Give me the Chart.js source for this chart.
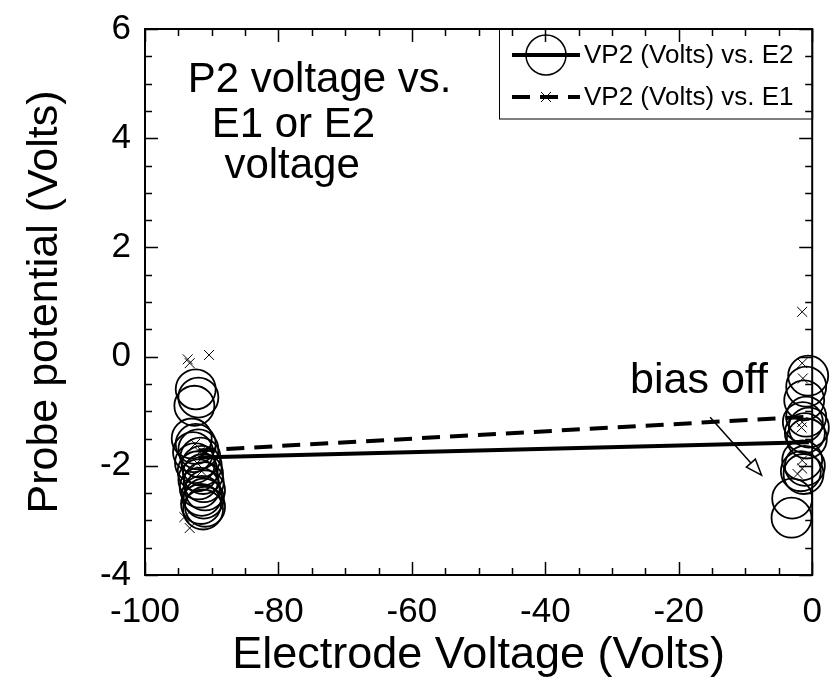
<!DOCTYPE html>
<html>
<head>
<meta charset="utf-8">
<script src="https://cdn.jsdelivr.net/npm/chart.js@4/dist/chart.umd.min.js"></script>
<style>
  html, body { margin: 0; padding: 0; background: #fff; }
</style>
</head>
<body>
<canvas id="chart" width="834" height="696"></canvas>
<script>
// VP2 against E2 voltage (open circles)
const e2X = [-92.4, -92.0, -92.6, -93.0, -92.4, -92.0, -92.8, -91.7, -92.5, -91.5, -92.1, -91.3, -92.0, -91.2, -91.8, -91.0, -91.5, -91.2, -91.6, -91.0, -91.3,
             -0.6, -0.9, -1.2, -0.9, -1.4, -0.5, -1.1, -0.8, -1.5, -1.1, -1.7, -1.3, -3.0, -3.1];
const e2Y = [-0.6, -0.75, -0.9, -1.5, -1.6, -1.7, -1.75, -1.85, -1.95, -2.0, -2.1, -2.15, -2.25, -2.3, -2.4, -2.45, -2.55, -2.6, -2.7, -2.75, -2.8,
             -0.35, -0.55, -0.8, -1.1, -1.2, -1.3, -1.4, -1.5, -1.9, -2.0, -2.1, -2.15, -2.6, -2.95];

// VP2 against E1 voltage (crosses)
const e1X = [-93.6, -93.3, -90.4, -92.5, -91.8, -92.2, -91.5, -94.1, -93.3,
             -1.5, -1.5, -1.4, -1.5, -1.6, -1.5, -1.5, -2.2];
const e1Y = [-0.05, -0.12, 0.03, -1.6, -1.75, -1.95, -2.1, -2.94, -3.14,
             0.82, -0.12, -0.4, -1.2, -1.3, -1.9, -2.05, -2.15];

// straight-line fits through each set
const fitX = [-92, -0.5];
const fitE2 = [-1.85, -1.57];
const fitE1 = [-1.72, -1.1];

const seriesNames = ['VP2 (Volts) vs. E2', 'VP2 (Volts) vs. E1'];

const FONT = '"Liberation Sans", Arial, Helvetica, sans-serif';

const pts = (xs, ys) => xs.map((x, i) => ({ x: x, y: ys[i] }));

// box frame with inward ticks on all four sides
const frame = {
  id: 'frame',
  afterDraw(chart) {
    const ctx = chart.ctx;
    const a = chart.chartArea;
    const xs = chart.scales.x, ys = chart.scales.y;
    ctx.save();
    ctx.strokeStyle = '#000';
    ctx.lineWidth = 2;
    ctx.strokeRect(a.left, a.top, a.right - a.left, a.bottom - a.top);
    ctx.lineWidth = 1.5;
    ctx.beginPath();
    for (let v = -100; v <= 0; v += 5) {
      const px = Math.round(xs.getPixelForValue(v)) + 0.5;
      const len = v % 20 === 0 ? 13 : 7;
      ctx.moveTo(px, a.bottom); ctx.lineTo(px, a.bottom - len);
      ctx.moveTo(px, a.top); ctx.lineTo(px, a.top + len);
    }
    for (let v = -4; v <= 6; v += 0.5) {
      const py = Math.round(ys.getPixelForValue(v)) + 0.5;
      const len = v % 2 === 0 ? 13 : 7;
      ctx.moveTo(a.left, py); ctx.lineTo(a.left + len, py);
      ctx.moveTo(a.right, py); ctx.lineTo(a.right - len, py);
    }
    ctx.stroke();

    // text notes
    ctx.fillStyle = '#000';
    ctx.textBaseline = 'alphabetic';
    ctx.textAlign = 'left';
    ctx.font = '42px ' + FONT;
    ctx.fillText('P2 voltage vs.', xs.getPixelForValue(-93.6), ys.getPixelForValue(4.85));
    ctx.fillText('E1 or E2', xs.getPixelForValue(-90.0), ys.getPixelForValue(4.02));
    ctx.fillText('voltage', xs.getPixelForValue(-88.1), ys.getPixelForValue(3.27));
    ctx.font = '43px ' + FONT;
    ctx.fillText('bias off', xs.getPixelForValue(-27.3), ys.getPixelForValue(-0.67));

    // arrow pointing at the bias-off points
    const x0 = xs.getPixelForValue(-15.3), y0 = ys.getPixelForValue(-1.11);
    const x1 = xs.getPixelForValue(-7.6), y1 = ys.getPixelForValue(-2.17);
    const ang = Math.atan2(y1 - y0, x1 - x0);
    const hl = 16, hw = 6;
    const bx = x1 - hl * Math.cos(ang), by = y1 - hl * Math.sin(ang);
    ctx.lineWidth = 1.5;
    ctx.beginPath();
    ctx.moveTo(x0, y0); ctx.lineTo(bx, by);
    ctx.stroke();
    ctx.beginPath();
    ctx.moveTo(x1, y1);
    ctx.lineTo(bx + hw * Math.sin(ang), by - hw * Math.cos(ang));
    ctx.lineTo(bx - hw * Math.sin(ang), by + hw * Math.cos(ang));
    ctx.closePath();
    ctx.fillStyle = '#fff';
    ctx.fill();
    ctx.stroke();

    // legend box in the top right corner
    const lx = 499, lb = 119;
    ctx.lineWidth = 1;
    ctx.strokeRect(lx + 0.5, a.top, a.right - lx, lb - a.top);
    ctx.fillStyle = '#000';
    ctx.font = '26px ' + FONT;
    ctx.textBaseline = 'middle';
    // row 1: solid line with circle
    ctx.lineWidth = 4;
    ctx.beginPath(); ctx.moveTo(512, 55); ctx.lineTo(580, 55); ctx.stroke();
    ctx.lineWidth = 1.5;
    ctx.beginPath(); ctx.arc(546, 55, 20, 0, Math.PI * 2); ctx.stroke();
    ctx.fillText(seriesNames[0], 584, 56);
    // row 2: dashed line with cross
    ctx.lineWidth = 4;
    ctx.setLineDash([18, 10]);
    ctx.beginPath(); ctx.moveTo(512, 97); ctx.lineTo(580, 97); ctx.stroke();
    ctx.setLineDash([]);
    ctx.lineWidth = 1;
    ctx.beginPath();
    ctx.moveTo(541, 92); ctx.lineTo(551, 102);
    ctx.moveTo(551, 92); ctx.lineTo(541, 102);
    ctx.stroke();
    ctx.fillText(seriesNames[1], 584, 98);
    ctx.restore();
  }
};

new Chart(document.getElementById('chart'), {
  type: 'scatter',
  data: {
    datasets: [
      {
        label: seriesNames[0],
        data: pts(e2X, e2Y),
        pointStyle: 'circle',
        pointRadius: 20,
        pointBorderWidth: 1.8,
        pointBorderColor: '#000',
        pointBackgroundColor: 'rgba(0,0,0,0)',
        clip: false,
        order: 1
      },
      {
        label: seriesNames[1],
        data: pts(e1X, e1Y),
        pointStyle: 'crossRot',
        pointRadius: 7,
        pointBorderWidth: 1,
        pointBorderColor: '#000',
        clip: false,
        order: 2
      },
      {
        type: 'line',
        label: 'fit E2',
        data: pts(fitX, fitE2),
        borderColor: '#000',
        borderWidth: 4,
        pointRadius: 0,
        order: 3
      },
      {
        type: 'line',
        label: 'fit E1',
        data: pts(fitX, fitE1),
        borderColor: '#000',
        borderWidth: 4,
        borderDash: [18, 10],
        pointRadius: 0,
        order: 4
      }
    ]
  },
  options: {
    responsive: false,
    animation: false,
    layout: { padding: { top: 29, right: 15, left: 0, bottom: 0 } },
    plugins: {
      legend: { display: false },
      tooltip: { enabled: false }
    },
    scales: {
      x: {
        type: 'linear',
        min: -100,
        max: 0,
        ticks: { stepSize: 20, color: '#000', padding: 16, maxRotation: 0, font: { family: FONT, size: 35 } },
        grid: { display: false, drawTicks: false },
        border: { display: false },
        title: { display: true, text: 'Electrode Voltage (Volts)', color: '#000', padding: { top: 0, bottom: 13 }, font: { family: FONT, size: 45 } },
        afterFit: s => { s.height = 121; s.paddingLeft = 0; s.paddingRight = 0; }
      },
      y: {
        type: 'linear',
        min: -4,
        max: 6,
        ticks: { stepSize: 2, color: '#000', padding: 14, font: { family: FONT, size: 35 } },
        grid: { display: false, drawTicks: false },
        border: { display: false },
        title: { display: true, text: 'Probe potential (Volts)', color: '#000', padding: { top: 19, bottom: 0 }, font: { family: FONT, size: 43 } },
        afterFit: s => { s.width = 145; s.paddingTop = 0; s.paddingBottom = 0; }
      }
    }
  },
  plugins: [frame]
});
</script>
</body>
</html>
